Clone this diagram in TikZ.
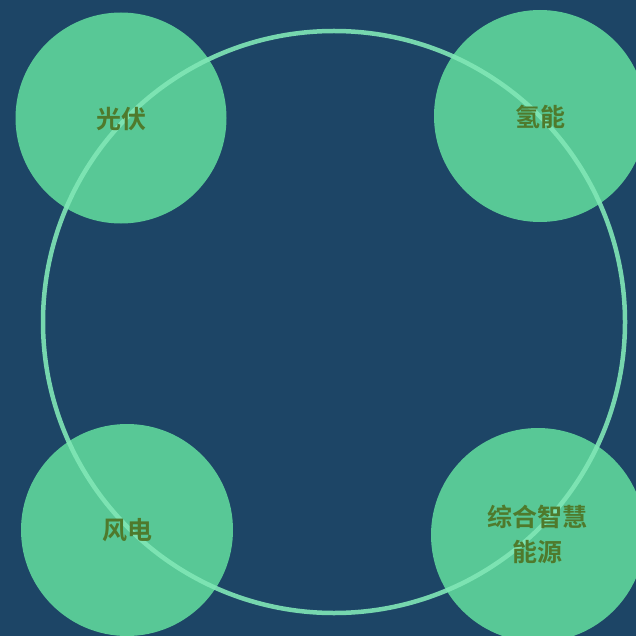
\documentclass[tikz,border=0pt]{standalone}
\usepackage{fontspec}
\newfontfamily\cjk{Noto Sans CJK SC}[BoldFont={* Bold}]
\definecolor{bgblue}{HTML}{1D4566}
\definecolor{ballgreen}{HTML}{58C896}
\definecolor{ringgreen}{HTML}{80E6B6}
\definecolor{txtgreen}{HTML}{4F7A2C}
\begin{document}
\begin{tikzpicture}[x=1pt,y=-1pt,
  ball/.style={circle, fill=ballgreen, minimum size=#1pt, inner sep=0pt},
  lbl/.style={font=\cjk\bfseries\fontsize{25}{35}\selectfont, text=txtgreen, align=center},
  ring/.style={draw=ringgreen, line width=4.5pt, opacity=0.9}]
\useasboundingbox (0,0) rectangle (636,636);
\fill[bgblue] (0,0) rectangle (636,636);
\begin{scope}
\clip (0,0) rectangle (636,636);
\node[ball=211] (pv) at (121,118) {};
\node[ball=212] (h2) at (540,116) {};
\node[ball=212] (wind) at (127,530) {};
\node[ball=214] (smart) at (538,535) {};
\node[circle, minimum size=582pt, inner sep=0pt, ring] (big) at (334,322) {};
\end{scope}
\node[lbl] (tpv) at (121,119) {光伏};
\node[lbl] (th2) at (540,117) {氢能};
\node[lbl] (twind) at (127,530) {风电};
\node[lbl] (tsmart) at (537,534) {综合智慧\\能源};
\end{tikzpicture}
\end{document}
